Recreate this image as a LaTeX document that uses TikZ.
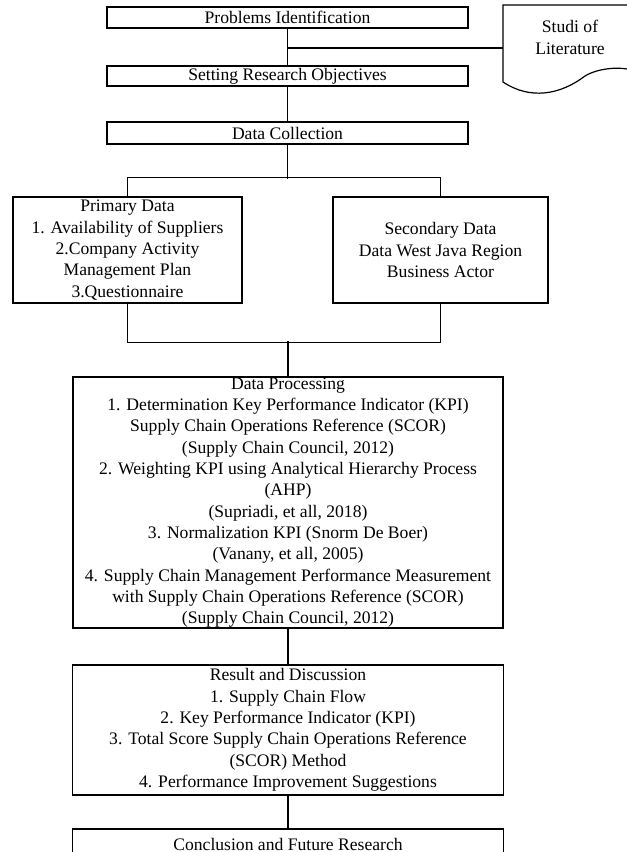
\documentclass[tikz,border=0pt]{standalone}
\usepackage{fontspec}
\setmainfont{Liberation Serif}
\begin{document}
\begin{tikzpicture}[x=0.75pt,y=-0.75pt,
  box/.style={draw,line width=0.9pt,inner sep=0pt,align=center,
    font=\fontsize{13.2}{16}\selectfont},
  txt/.style={inner sep=0pt,align=center,font=\fontsize{13.2}{16}\selectfont},
  conn/.style={line width=0.9pt}]
\useasboundingbox (0,0) rectangle (627,852);
\clip (0,0) rectangle (627,852);
% boxes
\node[box,minimum width=270.75pt,minimum height=15.75pt] (prob) at (287.5,17.5) {Problems Identification};
\node[box,minimum width=270.75pt,minimum height=15pt] (obj) at (287.5,76) {Setting Research Objectives};
\node[box,minimum width=270.75pt,minimum height=16.5pt] (coll) at (287.5,133) {Data Collection};
\node[box,minimum width=171.75pt,minimum height=79.5pt] (prim) at (127.5,250) {Primary Data\\1. Availability of Suppliers\\2.Company Activity\\Management Plan\\3.Questionnaire};
\node[box,minimum width=161.25pt,minimum height=79.5pt] (sec) at (440.5,250) {Secondary Data\\Data West Java Region\\Business Actor};
\node[box,minimum width=322.5pt,minimum height=188.25pt] (proc) at (288,502.5) {Data Processing\\1. Determination Key Performance Indicator (KPI)\\Supply Chain Operations Reference (SCOR)\\(Supply Chain Council, 2012)\\2. Weighting KPI using Analytical Hierarchy Process\\(AHP)\\(Supriadi, et all, 2018)\\3. Normalization KPI (Snorm De Boer)\\(Vanany, et all, 2005)\\4. Supply Chain Management Performance Measurement\\with Supply Chain Operations Reference (SCOR)\\(Supply Chain Council, 2012)};
\node[box,minimum width=323.25pt,minimum height=97.5pt] (res) at (288,730) {Result and Discussion\\1. Supply Chain Flow\\2. Key Performance Indicator (KPI)\\3. Total Score Supply Chain Operations Reference\\(SCOR) Method\\4. Performance Improvement Suggestions};
\node[box,minimum width=323.25pt,minimum height=22.5pt] (conc) at (288,844) {Conclusion and Future Research};
% document shape
\draw[line width=0.9pt] (637,72) -- (637,5) -- (503,5) -- (503,82)
  .. controls (530,100) and (560,95) .. (585,76)
  .. controls (600,67) and (625,66) .. (637,72);
\node[txt] (lit) at (570,37.5) {Studi of\\Literature};
\coordinate (litw) at (503,48);
% connectors
\draw[conn] (prob.south) -- (obj.north);
\draw[conn] (litw) -- (litw -| prob.south);
\draw[conn] (obj.south) -- (coll.north);
\draw[conn] (coll.south) -- ++(0,34);
\draw[conn] (prim.north) -- ++(0,-19) -| (sec.north);
\draw[conn] (prim.south) -- ++(0,39) -| (sec.south);
\draw[conn] (proc.north) -- ++(0,-35);
\draw[conn] (proc.south) -- (res.north);
\draw[conn] (res.south) -- (conc.north);
\end{tikzpicture}
\end{document}
